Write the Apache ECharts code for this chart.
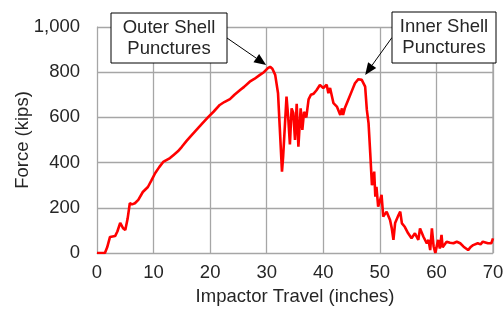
<!DOCTYPE html>
<html>
<head>
<meta charset="utf-8">
<script src="https://cdn.jsdelivr.net/npm/echarts@6/dist/echarts.min.js"></script>
<style>
  html, body { margin: 0; padding: 0; background: #fff; }
  #chart { width: 504px; height: 309px; }
</style>
</head>
<body>
<div id="chart"></div>
<script>
// impactor travel (inches) and force (kips)
const travel = [0, 1.4, 1.8, 2.3, 3.2, 3.6, 4.1, 4.6, 5.0, 5.4, 5.8, 6.2, 6.7, 7.3, 8.1, 9.0, 9.6, 10.3, 11.0, 11.7,
  12.9, 13.6, 14.3, 15.0, 15.8, 16.5, 17.3, 18.5, 19.6, 20.6, 21.7, 22.5, 23.5, 24.3, 25.3, 26.0, 27.0, 27.8, 28.8, 29.5,
  30.2, 30.6, 31.0, 31.5, 32.0, 32.3, 32.7, 32.9, 33.2, 33.5, 33.8, 34.1, 34.4, 34.7, 35.0, 35.3, 35.6, 36.0, 36.3, 36.6,
  37.0, 37.4, 37.8, 38.3, 38.8, 39.4, 40.0, 40.6, 40.9, 41.2, 41.8, 42.4, 43.0, 43.3, 43.5, 43.8, 44.4, 45.0, 45.6, 46.2,
  46.8, 47.4, 47.7, 48.0, 48.3, 48.6, 49.0, 49.2, 49.4, 49.7, 50.0, 50.3, 50.6, 51.2, 51.8, 52.1, 52.4, 52.7, 53.3, 53.6,
  53.9, 54.4, 55.0, 55.6, 56.2, 56.8, 57.1, 57.7, 58.3, 58.6, 58.9, 59.2, 59.5, 59.8, 60.3, 60.6, 60.9, 61.1, 61.8, 62.4,
  63.0, 63.6, 64.2, 64.8, 65.6, 66.0, 66.5, 67.3, 67.8, 68.2, 69.1, 69.7, 70];
const force = [0, 0, 25, 71, 75, 95, 133, 110, 102, 150, 220, 215, 220, 235, 270, 292, 320, 354, 380, 403,
  420, 435, 450, 470, 495, 515, 537, 570, 600, 625, 655, 668, 681, 700, 721, 735, 758, 770, 788, 800,
  818, 824, 815, 788, 707, 558, 360, 425, 558, 692, 600, 480, 640, 620, 500, 660, 470, 640, 545, 625,
  600, 680, 700, 705, 720, 743, 730, 745, 707, 730, 663, 648, 611, 640, 611, 640, 677, 714, 751, 769,
  766, 736, 633, 575, 442, 300, 360, 249, 293, 205, 230, 257, 161, 183, 146, 110, 58, 133, 168, 183,
  131, 116, 87, 65, 87, 58, 109, 72, 43, 58, 13, 109, 30, 0, 58, 20, 80, 25, 50, 45,
  43, 50, 43, 28, 13, 25, 35, 43, 38, 50, 43, 43, 65];

// annotation text and the points the arrows point at
const notes = [
  { text: 'Outer Shell\nPunctures', at: [29.9, 832], box: [111, 13, 116, 50] },
  { text: 'Inner Shell\nPunctures', at: [47.4, 788], box: [392, 12, 104, 51] }
];

const font = 'Liberation Sans, Arial, sans-serif';
const textColor = '#262626';
const gridColor = '#a6a6a6';
const fs = 18.5;

const chart = echarts.init(document.getElementById('chart'));

chart.setOption({
  animation: false,
  grid: { left: 97, right: 11, top: 27, bottom: 56, containLabel: false, outerBoundsMode: 'none' },
  xAxis: {
    type: 'value',
    min: 0, max: 70, interval: 10,
    name: 'Impactor Travel (inches)',
    nameLocation: 'middle',
    nameGap: 34,
    nameMoveOverlap: false,
    nameTextStyle: { fontFamily: font, fontSize: fs, color: textColor },
    axisLine: { show: true, lineStyle: { color: gridColor } },
    axisTick: { show: false },
    axisLabel: { fontFamily: font, fontSize: fs, color: textColor, margin: 10 },
    splitLine: { show: true, lineStyle: { color: gridColor, width: 1.3 } }
  },
  yAxis: {
    type: 'value',
    min: 0, max: 1000, interval: 200,
    name: 'Force (kips)',
    nameLocation: 'middle',
    nameGap: 65,
    nameMoveOverlap: false,
    nameTextStyle: { fontFamily: font, fontSize: fs, color: textColor },
    axisLine: { show: true, lineStyle: { color: gridColor } },
    axisTick: { show: false },
    axisLabel: {
      fontFamily: font, fontSize: fs, color: textColor, margin: 17,
      formatter: v => v.toLocaleString('en-US')
    },
    splitLine: { show: true, lineStyle: { color: gridColor, width: 1.3 } }
  },
  series: [{
    type: 'line',
    data: travel.map((x, i) => [x, force[i]]),
    symbol: 'none',
    lineStyle: { color: '#ff0000', width: 2.6 },
    z: 3
  }]
});

// right border of the plot area
const graphics = [];
const tl = chart.convertToPixel({ gridIndex: 0 }, [70, 1000]);
const br = chart.convertToPixel({ gridIndex: 0 }, [70, 0]);
graphics.push({
  type: 'line', silent: true, z: 1,
  shape: { x1: tl[0], y1: tl[1], x2: br[0], y2: br[1] },
  style: { stroke: gridColor, lineWidth: 1.3 }
});

notes.forEach(n => {
  const [bx, by, bw, bh] = n.box;
  const tip = chart.convertToPixel({ gridIndex: 0 }, n.at);
  // arrow starts from the box edge facing the tip
  const sx = tip[0] > bx + bw ? bx + bw : bx;
  const sy = by + bh / 2;
  const dx = tip[0] - sx, dy = tip[1] - sy;
  const len = Math.sqrt(dx * dx + dy * dy);
  const ux = dx / len, uy = dy / len;
  const headLen = 12, headW = 5;
  const baseX = tip[0] - ux * headLen, baseY = tip[1] - uy * headLen;
  graphics.push({
    type: 'line', silent: true, z: 10,
    shape: { x1: sx, y1: sy, x2: baseX, y2: baseY },
    style: { stroke: '#000', lineWidth: 1 }
  });
  graphics.push({
    type: 'polygon', silent: true, z: 10,
    shape: { points: [tip, [baseX - uy * headW, baseY + ux * headW], [baseX + uy * headW, baseY - ux * headW]] },
    style: { fill: '#000' }
  });
  graphics.push({
    type: 'rect', silent: true, z: 10,
    shape: { x: bx, y: by, width: bw, height: bh },
    style: { fill: '#fff', stroke: '#000', lineWidth: 1 }
  });
  graphics.push({
    type: 'text', silent: true, z: 11,
    x: bx + bw / 2, y: by + bh / 2,
    style: {
      text: n.text, fontFamily: font, fontSize: fs, lineHeight: 21,
      fill: textColor, align: 'center', verticalAlign: 'middle'
    }
  });
});

chart.setOption({ graphic: graphics });
</script>
</body>
</html>
